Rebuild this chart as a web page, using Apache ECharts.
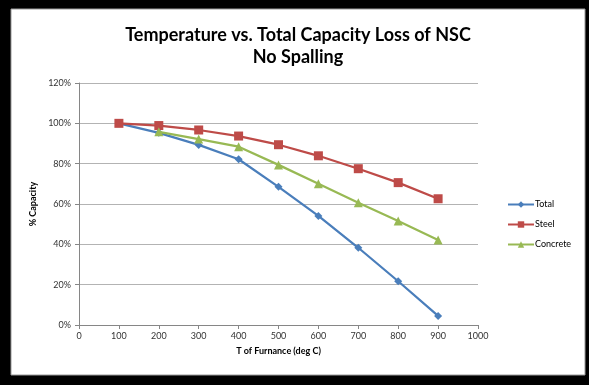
<!DOCTYPE html>
<html><head><meta charset="utf-8">
<script src="https://cdn.jsdelivr.net/npm/echarts@6/dist/echarts.min.js"></script>
<style>html,body{margin:0;padding:0;background:#000;}#c{width:589px;height:385px;}</style>
</head><body><div id="c"></div>
<script>
const temps = [100,200,300,400,500,600,700,800,900];
const total = [100,95.3,89.3,82.2,68.5,54.1,38.3,21.7,4.5];
const steel = [100,98.9,96.7,93.7,89.4,83.9,77.5,70.6,62.6];
const concrete = [null,95.8,92.2,88.4,79.4,70.0,60.6,51.6,42.2];
const yTicks = [0,20,40,60,80,100,120];
const names = ['Total','Steel','Concrete'];
const colors = ['#4A7EBB','#BE4B48','#98B954'];
const symbols = ['diamond','rect','triangle'];
const sizes = [8,9,9];
const vals = [total, steel, concrete];
const font = 'Lato, "Open Sans", sans-serif';
const chart = echarts.init(document.getElementById('c'));
chart.setOption({
  animation:false,
  backgroundColor:'#000',
  graphic:[{type:'rect',z:-10,shape:{x:11,y:9,width:574,height:366},style:{fill:'#fff',stroke:'#999',lineWidth:1}}],
  title:{text:'Temperature vs. Total Capacity Loss of NSC\nNo Spalling',left:293,top:19,textAlign:'center',
    textStyle:{fontFamily:font,fontWeight:'bold',fontSize:18,lineHeight:22,color:'#000'}},
  grid:{left:79,right:111,top:83,bottom:60},
  legend:{orient:'vertical',left:502,top:195,itemGap:11,itemWidth:26,itemHeight:8,
    textStyle:{fontFamily:font,fontSize:9,color:'#000',padding:[0,0,0,-4]},data:names},
  xAxis:{type:'value',min:0,max:1000,interval:100,name:'T of Furnance (deg C)',nameLocation:'middle',nameGap:22,
    nameTextStyle:{fontFamily:font,fontWeight:'bold',fontSize:9,color:'#000'},
    axisLine:{lineStyle:{color:'#868686'}},axisTick:{show:true,length:4,lineStyle:{color:'#868686'}},
    axisLabel:{fontFamily:font,fontSize:9,color:'#333',margin:7,formatter:v=>String(v)},splitLine:{show:false}},
  yAxis:{type:'value',min:0,max:120,interval:20,name:'% Capacity',nameLocation:'middle',nameGap:40,nameRotate:90,
    nameTextStyle:{fontFamily:font,fontWeight:'bold',fontSize:9,color:'#000'},
    axisLine:{show:true,lineStyle:{color:'#868686'}},axisTick:{show:true,length:4,lineStyle:{color:'#868686'}},
    axisLabel:{fontFamily:font,fontSize:9,color:'#333',margin:8,formatter:v=>yTicks.includes(v)?v+'%':''},
    splitLine:{lineStyle:{color:'#b3b3b3',width:1}}},
  series:names.map((n,i)=>({name:n,type:'line',data:temps.map((t,j)=>[t,vals[i][j]]),
    symbol:symbols[i],symbolSize:sizes[i],color:colors[i],lineStyle:{width:2.25,color:colors[i]},
    itemStyle:{color:colors[i]},z:[3,4,5][i]}))
});
</script></body></html>
